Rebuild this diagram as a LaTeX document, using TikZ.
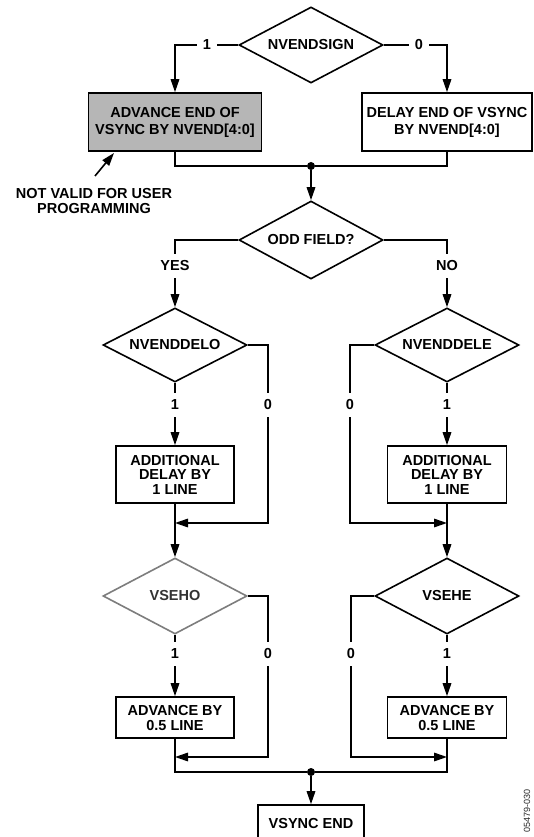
\documentclass[tikz,border=0pt]{standalone}
\usepackage{fontspec}
\setmainfont{Liberation Sans}
\usetikzlibrary{shapes.geometric,arrows.meta}
\definecolor{boxgray}{RGB}{182,182,182}
\definecolor{fadegray}{RGB}{125,125,125}
\begin{document}
\begin{tikzpicture}[x=1pt,y=-1pt,
  every node/.style={font=\bfseries\fontsize{14.5}{16}\selectfont, align=center},
  line/.style={line width=1.6pt},
  arr/.style={line, -{Triangle[length=13pt,width=8.5pt]}},
  box/.style={draw, line width=1.6pt, rectangle, inner sep=0pt},
  dec/.style={draw, line width=1.6pt, diamond, inner sep=0pt,
              minimum width=144pt, minimum height=76pt, shape aspect=1.9},
  tag/.style={fill=white, inner xsep=6pt, inner ysep=7pt},
  dot/.style={circle, fill, inner sep=0pt, minimum size=8pt}
]
\useasboundingbox (0,0) rectangle (533,837);
\clip (0,0) rectangle (533,837);

% ---- top decision: sign of NVEND
\node[dec] (sign) at (311,45) {NVENDSIGN};
\node[box, fill=boxgray, minimum width=173pt, minimum height=58pt,
      font=\bfseries\fontsize{14.5}{17}\selectfont] (adv) at (175,122)
      {ADVANCE END OF\\VSYNC BY NVEND[4:0]};
\node[box, minimum width=170pt, minimum height=58pt,
      font=\bfseries\fontsize{14.5}{17}\selectfont] (del) at (447,122)
      {DELAY END OF VSYNC\\BY NVEND[4:0]};
\node[dot] (m1) at (311,166) {};

\node[font=\bfseries\fontsize{14.5}{15}\selectfont] (nv) at (94,201)
      {NOT VALID FOR USER\\PROGRAMMING};
\coordinate (nvt) at (95,176);
\coordinate (nvtip) at (114,153);

% ---- field decision
\node[dec, minimum height=78pt] (odd) at (311,240) {ODD FIELD?};

% ---- odd field branch
\node[dec, minimum height=74pt] (delo) at (175,345) {NVENDDELO};
\node[box, minimum width=118pt, minimum height=57pt,
      font=\bfseries\fontsize{14.5}{14.5}\selectfont] (addo) at (175,474.5)
      {ADDITIONAL\\DELAY BY\\1 LINE};
\coordinate (jo) at (175,523);
\coordinate (bo) at (268,523);
\node[dec, draw=fadegray, text=black!80] (vseho) at (175,596) {VSEHO};
\node[box, minimum width=118pt, minimum height=41pt,
      font=\bfseries\fontsize{14.5}{15}\selectfont] (advo) at (175,717.5)
      {ADVANCE BY\\0.5 LINE};
\coordinate (jo2) at (175,757);
\coordinate (bo2) at (268,757);

% ---- even field branch
\node[dec, minimum height=74pt] (dele) at (447,345) {NVENDDELE};
\node[box, minimum width=119pt, minimum height=57pt,
      font=\bfseries\fontsize{14.5}{14.5}\selectfont] (adde) at (447,474.5)
      {ADDITIONAL\\DELAY BY\\1 LINE};
\coordinate (je) at (447,523);
\coordinate (be) at (350,523);
\node[dec] (vsehe) at (447,596) {VSEHE};
\node[box, minimum width=119pt, minimum height=41pt,
      font=\bfseries\fontsize{14.5}{15}\selectfont] (adve) at (447,717.5)
      {ADVANCE BY\\0.5 LINE};
\coordinate (je2) at (447,757);
\coordinate (be2) at (351,757);

% ---- end
\node[dot] (m2) at (311,772) {};
\node[box, minimum width=106pt, minimum height=36pt] (vend) at (311,823) {VSYNC END};

% ---- connectors
\draw[arr] (sign.west) -| (adv.north);
\draw[arr] (sign.east) -| (del.north);
\draw[line] (adv.south) |- (m1);
\draw[line] (del.south) |- (m1);
\draw[arr] (m1) -- (odd.north);
\draw[arr] (nvt) -- (nvtip);

\draw[arr] (odd.west) -| (delo.north);
\draw[arr] (odd.east) -| (dele.north);

\draw[arr] (delo.south) -- (addo.north);
\draw[arr] (delo.east) -| (bo) -- (jo);
\draw[arr] (addo.south) -- (vseho.north);
\draw[arr] (vseho.south) -- (advo.north);
\draw[arr] (vseho.east) -| (bo2) -- (jo2);

\draw[arr] (dele.south) -- (adde.north);
\draw[arr] (dele.west) -| (be) -- (je);
\draw[arr] (adde.south) -- (vsehe.north);
\draw[arr] (vsehe.south) -- (adve.north);
\draw[arr] (vsehe.west) -| (be2) -- (je2);

\draw[line] (advo.south) |- (m2);
\draw[line] (adve.south) |- (m2);
\draw[arr] (m2) -- (vend.north);

% ---- branch labels sitting in gaps of the lines
\node[tag] (t1) at (207,45) {1};
\node[tag] (t0) at (419,45) {0};
\node[tag] (tyes) at (175,266) {YES};
\node[tag] (tno) at (447,266) {NO};
\node[tag] (tdo1) at (175,405) {1};
\node[tag] (tdo0) at (268,405) {0};
\node[tag] (tde0) at (350,405) {0};
\node[tag] (tde1) at (447,405) {1};
\node[tag] (tvo1) at (175,654) {1};
\node[tag] (tvo0) at (268,654) {0};
\node[tag] (tve0) at (351,654) {0};
\node[tag] (tve1) at (447,654) {1};

% ---- figure number
\node[rotate=90, font=\fontsize{9}{10}\selectfont, text=black!85] (fig) at (527,811) {05479-030};
\end{tikzpicture}
\end{document}
